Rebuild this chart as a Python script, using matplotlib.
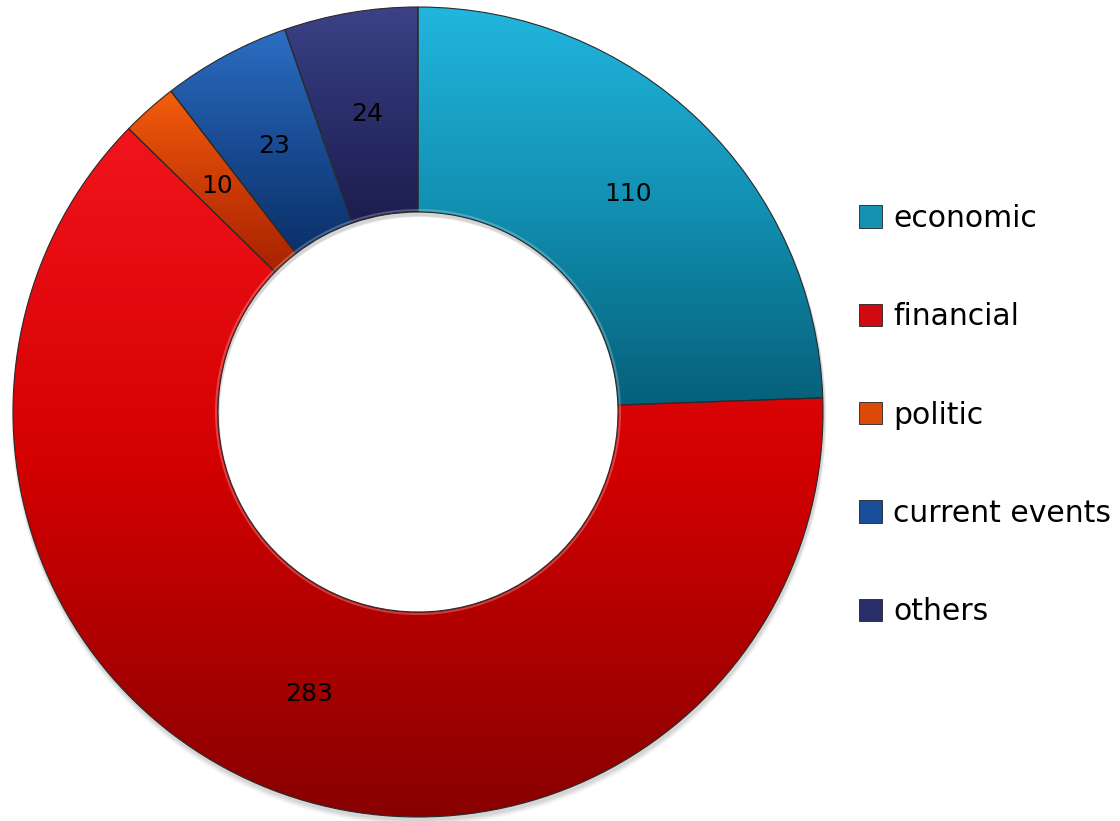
import numpy as np
import matplotlib
matplotlib.use("Agg")
import matplotlib.pyplot as plt
from matplotlib.colors import to_rgb
from matplotlib.patches import Patch, Wedge

# Article counts by topic
categories = ["economic", "financial", "politic", "current events", "others"]
counts = [110, 283, 10, 23, 24]

# Top / middle / bottom shade for each slice's vertical gradient
top_colors = ["#22b6de", "#f2141c", "#f45e0c", "#2c6ec4", "#3c4286"]
mid_colors = ["#1290b2", "#d20000", "#cc3c06", "#1a4c94", "#2a2e6a"]
bottom_colors = ["#06607a", "#880000", "#a82200", "#0a3068", "#1c1c4e"]
legend_colors = ["#1691b0", "#d00a10", "#dc4a08", "#1a4e9a", "#2a2e68"]

W, H = 1120, 821
fig = plt.figure(figsize=(W / 100, H / 100), dpi=100)
ax = fig.add_axes([0, 0, 1, 1])

cx, cy = 418, 409
r_out, ring = 405, 205

# soft drop shadow under the ring
for k, a in enumerate([0.05, 0.05, 0.04, 0.03]):
    ax.add_patch(Wedge((cx + 1, cy - 3 - k), r_out + 1 + k * 0.5, 0, 360,
                       width=ring + 2, facecolor="black", alpha=a,
                       edgecolor="none", zorder=0))

wedges, texts = ax.pie(counts, startangle=90, counterclock=False,
                       radius=r_out, center=(cx, cy), frame=True,
                       wedgeprops=dict(width=ring, edgecolor="#2a2a2a",
                                       linewidth=0.8))


def shade(top, mid, bot, n=256):
    t = np.linspace(0, 1, n)
    stops = np.array([to_rgb(top), to_rgb(mid), to_rgb(bot)])
    return np.stack([np.interp(t, [0, 0.5, 1], stops[:, i])
                     for i in range(3)], axis=-1)


total = sum(counts)
start = 90.0
r_lab = r_out - ring / 2
for w, c, tc, mc, bc in zip(wedges, counts, top_colors, mid_colors,
                            bottom_colors):
    w.set_facecolor("none")
    w.set_zorder(3)
    # vertical gradient clipped to the slice
    bb = w.get_path().get_extents(w.get_patch_transform())
    grad = shade(tc, mc, bc)
    img = np.repeat(grad[:, None, :], 2, axis=1)
    im = ax.imshow(img, extent=(bb.x0, bb.x1, bb.y0, bb.y1), origin="upper",
                   aspect="auto", interpolation="bilinear", zorder=2)
    im.set_clip_path(w)
    # value label at the ring's middle
    sweep = 360.0 * c / total
    mid = np.deg2rad(start - sweep / 2)
    ax.text(cx + r_lab * np.cos(mid), cy + r_lab * np.sin(mid), str(c),
            ha="center", va="center", fontsize=18, color="black",
            family="DejaVu Sans", zorder=5)
    start -= sweep

# light bevel along the inner rim
ax.add_patch(Wedge((cx, cy), r_out - ring + 3, 0, 360, width=2,
                   facecolor="white", alpha=0.25, edgecolor="none", zorder=4))

ax.set_xlim(0, W)
ax.set_ylim(0, H)
ax.set_aspect("equal")
ax.axis("off")

handles = [Patch(facecolor=c, edgecolor="#222222", linewidth=0.6)
           for c in legend_colors]
leg = ax.legend(handles, categories, loc="upper left",
                bbox_to_anchor=(859 / W, 1 - 204 / H), frameon=False,
                fontsize=21.5, handlelength=0.77, handleheight=0.77,
                handletextpad=0.37, labelspacing=2.32, borderaxespad=0,
                borderpad=0)

fig.savefig("out.png", dpi=100)
